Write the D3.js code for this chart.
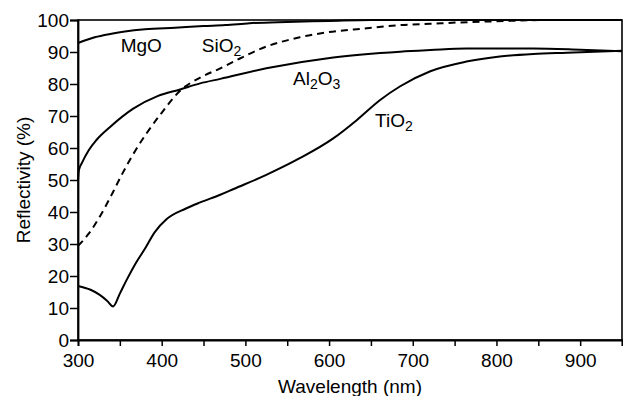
<!DOCTYPE html>
<html>
<head>
<meta charset="utf-8">
<script src="https://cdn.jsdelivr.net/npm/d3@7"></script>
<style>
  body { margin: 0; background: #fff; }
  text { font-family: "Liberation Sans", Arial, Helvetica, sans-serif; fill: #000; }
</style>
</head>
<body>
<div class="chart"></div>
<script>
// [wavelength nm, reflectivity %]
const mgo = [[300, 92.8], [320, 94.6], [340, 95.7], [356, 96.4], [380, 97.1], [416, 97.6], [450, 98.1], [476, 98.4], [505, 99.0], [550, 99.4], [600, 99.7], [650, 100], [950, 100]];
const sio2 = [[300, 29.4], [313, 33.3], [327, 39], [341, 45.8], [353, 52], [369, 59.4], [382, 64.6], [400, 71], [422, 77.9], [446, 82], [470, 84.9], [486, 87], [525, 91.7], [565, 94.6], [589, 95.8], [645, 97.4], [685, 98.4], [721, 98.8], [752, 99.2], [800, 99.6], [860, 100], [950, 100]];
const al2o3 = [[300, 50], [301, 53], [305, 55.5], [313, 59.4], [322, 62.5], [338, 66.5], [366, 72.3], [395, 76.2], [422, 78.3], [446, 80.2], [470, 81.6], [525, 84.9], [605, 88.3], [685, 90.1], [721, 90.6], [764, 91.1], [844, 91.1], [900, 90.7], [950, 90.2]];
const tio2 = [[300, 16.9], [315, 15.7], [326, 14.1], [335, 12.2], [342, 10.5], [350, 14.5], [358, 18.7], [369, 24], [379, 28.1], [392, 33.8], [406, 37.8], [429, 41.1], [446, 43], [470, 45.4], [486, 47.2], [525, 51.6], [565, 56.8], [605, 63], [633, 68.7], [661, 75], [685, 79.3], [721, 84], [764, 87], [804, 88.6], [844, 89.4], [884, 89.8], [950, 90.4]];

const xTicks = [300, 350, 400, 450, 500, 550, 600, 650, 700, 750, 800, 850, 900, 950];
const xLabels = ['300', '', '400', '', '500', '', '600', '', '700', '', '800', '', '900', ''];
const yTicks = [0, 10, 20, 30, 40, 50, 60, 70, 80, 90, 100];

const series = [
  {name: 'MgO', values: mgo, dashed: false},
  {name: 'SiO2', values: sio2, dashed: true},
  {name: 'Al2O3', values: al2o3, dashed: false},
  {name: 'TiO2', values: tio2, dashed: false},
];

// label anchors in data units (wavelength, reflectivity at baseline)
const labels = [
  {parts: [['MgO', false]], at: [351, 90.1]},
  {parts: [['SiO', false], ['2', true]], at: [448, 90.1]},
  {parts: [['Al', false], ['2', true], ['O', false], ['3', true]], at: [557, 79.7]},
  {parts: [['TiO', false], ['2', true]], at: [655, 66.7]},
];

const margin = {top: 20, right: 1, bottom: 56, left: 78};
const width = 623 - margin.left - margin.right;
const height = 396 - margin.top - margin.bottom;

const svg = d3.select('.chart')
  .append('svg')
  .attr('width', 623)
  .attr('height', 396)
  .append('g')
  .attr('transform', `translate(${margin.left}, ${margin.top})`);

const xScale = d3.scaleLinear().domain([300, 950]).range([0, width]);
const yScale = d3.scaleLinear().domain([0, 100]).range([height, 0]);

// frame
svg.append('rect')
  .attr('width', width)
  .attr('height', height)
  .style('fill', 'none')
  .style('stroke', '#000')
  .style('stroke-width', 1.6);

const xAxis = svg.append('g')
  .attr('transform', `translate(0, ${height})`)
  .call(d3.axisBottom(xScale)
    .tickValues(xTicks)
    .tickFormat((d, i) => xLabels[i])
    .tickSize(6)
    .tickPadding(8));

const yAxis = svg.append('g')
  .call(d3.axisLeft(yScale)
    .tickValues(yTicks)
    .tickSize(8)
    .tickPadding(1));

[xAxis, yAxis].forEach(ax => {
  ax.select('.domain').style('stroke', '#000').style('stroke-width', 1.8);
  ax.selectAll('.tick line').style('stroke', '#000').style('stroke-width', 1.5);
  ax.selectAll('.tick text')
    .style('font-family', '"Liberation Sans", Arial, sans-serif')
    .style('font-size', '19px')
    .style('fill', '#000');
});

const line = d3.line()
  .x(d => xScale(d[0]))
  .y(d => yScale(d[1]))
  .curve(d3.curveMonotoneX);

svg.selectAll('.line')
  .data(series)
  .enter()
  .append('path')
  .attr('class', 'line')
  .attr('d', d => line(d.values))
  .style('fill', 'none')
  .style('stroke', '#000')
  .style('stroke-width', 2)
  .style('stroke-dasharray', d => d.dashed ? '7,5' : null);

labels.forEach(l => {
  const t = svg.append('text')
    .attr('x', xScale(l.at[0]))
    .attr('y', yScale(l.at[1]))
    .style('font-size', '19px');
  let shifted = false;
  l.parts.forEach(([s, sub]) => {
    const dy = sub && !shifted ? 4 : (!sub && shifted ? -4 : 0);
    shifted = sub;
    t.append('tspan')
      .attr('dy', dy)
      .style('font-size', sub ? '14px' : '19px')
      .text(s);
  });
});

svg.append('text')
  .attr('x', width / 2)
  .attr('y', height + 53)
  .attr('text-anchor', 'middle')
  .style('font-size', '19px')
  .text('Wavelength (nm)');

svg.append('text')
  .attr('transform', `translate(${30 - margin.left}, ${height / 2}) rotate(-90)`)
  .attr('text-anchor', 'middle')
  .style('font-size', '19px')
  .text('Reflectivity (%)');
</script>
</body>
</html>
